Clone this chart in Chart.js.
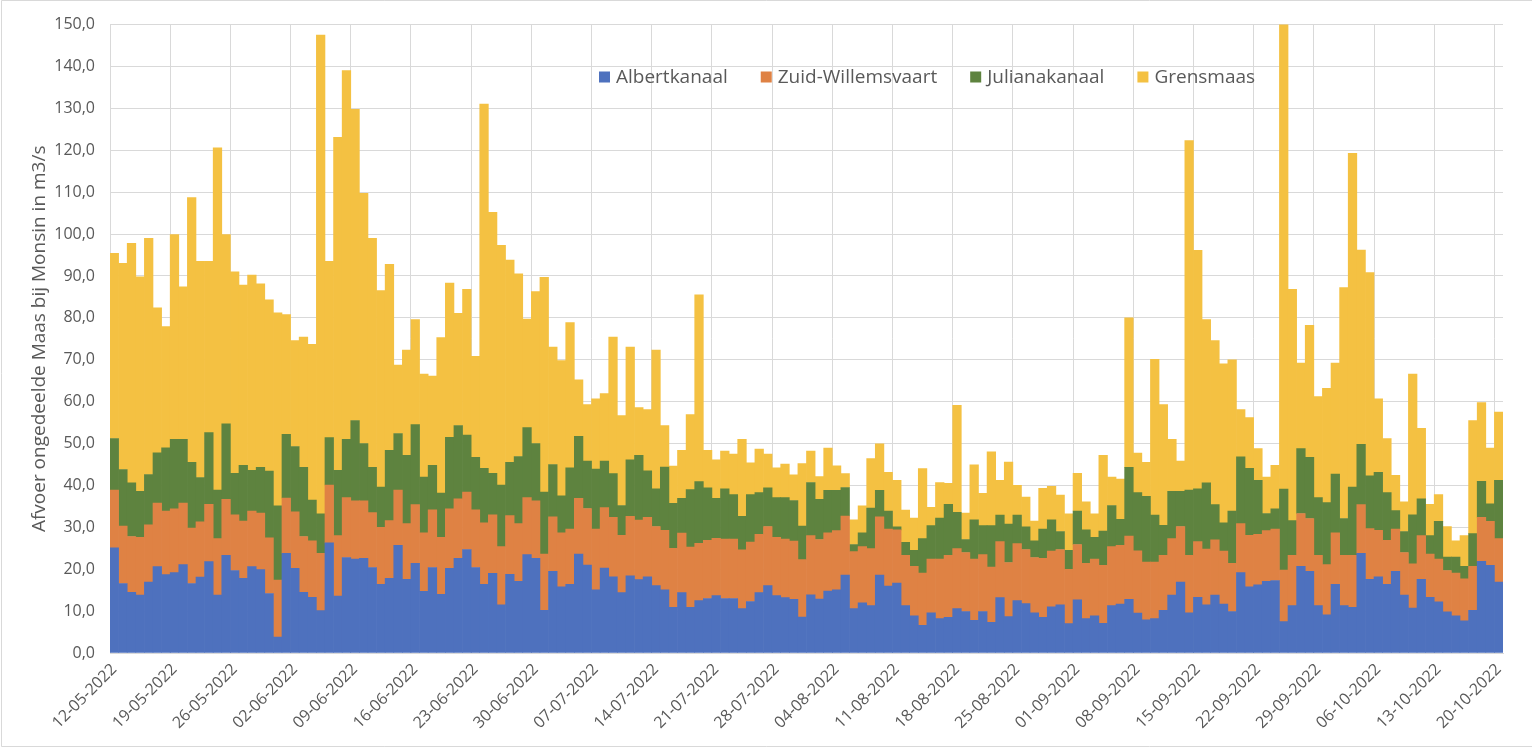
<!DOCTYPE html>
<html>
<head>
<meta charset="utf-8">
<script src="https://cdn.jsdelivr.net/npm/chart.js@4.4.1/dist/chart.umd.min.js"></script>
<style>
  html, body { margin: 0; padding: 0; background: #fff; }
  canvas { display: block; }
</style>
</head>
<body>
<canvas id="afvoerChart" width="1532" height="750"></canvas>
<script>
// dagelijkse afvoer per tak (m3/s), 12-05-2022 t/m 20-10-2022
const startDay = [2022, 4, 12];
const dayCount = 162;

const albertkanaal = [
  25.1, 16.6, 14.5, 13.8, 16.9, 20.6, 18.7, 19.2, 21.1, 16.6,
  18.1, 21.8, 13.8, 23.3, 19.7, 17.8, 20.6, 19.9, 14.2, 3.8,
  23.8, 20.2, 14.5, 13.3, 10.1, 26.3, 13.6, 22.8, 22.4, 22.6,
  20.4, 16.4, 17.8, 25.7, 17.6, 21.4, 14.7, 20.4, 14.0, 20.2,
  22.6, 24.7, 20.4, 16.4, 19.0, 11.5, 18.8, 17.1, 23.5, 22.6,
  10.2, 19.5, 15.8, 16.4, 23.6, 21.0, 15.1, 20.3, 18.2, 14.4,
  18.4, 17.5, 18.2, 16.1, 15.1, 10.9, 14.4, 10.9, 12.5, 13.0,
  13.7, 13.0, 13.0, 10.6, 12.3, 14.4, 16.1, 13.7, 13.2, 12.8,
  8.6, 13.9, 12.9, 14.8, 15.1, 18.6, 10.6, 12.0, 11.3, 18.6,
  16.0, 16.7, 11.3, 8.9, 6.6, 9.6, 8.2, 8.5, 10.6, 9.9,
  7.8, 9.9, 7.3, 13.2, 8.7, 12.5, 11.8, 9.6, 8.5, 11.0,
  11.5, 7.0, 12.7, 8.2, 8.9, 7.1, 11.3, 11.7, 12.8, 9.5,
  7.9, 8.2, 10.2, 13.8, 16.9, 9.6, 13.3, 11.5, 13.8, 11.7,
  9.9, 19.2, 15.8, 16.3, 17.1, 17.3, 7.5, 11.3, 20.7, 19.5,
  11.3, 9.1, 16.4, 11.3, 10.9, 23.8, 17.6, 18.2, 16.4, 19.5,
  13.8, 10.7, 17.6, 13.3, 12.2, 9.8, 8.9, 7.7, 10.2, 21.9,
  20.9, 16.9
];

const zuidWillemsvaart = [
  13.8, 13.7, 13.3, 13.8, 13.7, 15.2, 15.2, 15.2, 14.7, 13.2,
  13.2, 13.7, 13.5, 13.4, 13.3, 13.7, 13.3, 13.5, 13.3, 13.6,
  13.2, 13.5, 13.3, 13.5, 13.7, 13.8, 14.4, 14.3, 13.9, 13.7,
  13.1, 13.6, 13.8, 13.2, 13.3, 14.0, 14.0, 13.8, 13.6, 14.2,
  14.2, 13.7, 13.8, 14.7, 14.0, 13.9, 14.0, 13.8, 13.6, 13.7,
  13.4, 13.0, 12.9, 13.2, 13.3, 13.5, 14.5, 14.4, 14.2, 13.7,
  14.2, 14.2, 14.2, 14.1, 14.2, 14.1, 14.2, 14.4, 13.7, 13.9,
  13.7, 14.2, 14.2, 14.0, 14.2, 13.9, 14.1, 13.9, 14.0, 13.9,
  13.7, 14.1, 14.2, 13.9, 14.1, 14.1, 13.6, 13.4, 13.6, 13.9,
  13.6, 12.7, 12.0, 11.8, 12.5, 12.8, 14.2, 14.8, 14.3, 14.1,
  14.6, 13.6, 13.2, 13.4, 12.9, 13.6, 12.9, 13.2, 14.1, 13.3,
  13.2, 13.0, 13.2, 13.2, 13.5, 13.8, 14.1, 14.0, 15.1, 14.9,
  13.8, 13.5, 13.1, 13.5, 13.3, 13.7, 13.3, 13.3, 13.2, 12.6,
  11.5, 11.7, 12.3, 12.0, 12.1, 12.3, 12.3, 12.0, 12.6, 12.6,
  12.0, 12.0, 12.3, 12.0, 12.4, 11.6, 12.1, 11.1, 10.5, 10.1,
  10.2, 10.6, 10.4, 10.3, 10.2, 9.9, 10.2, 10.0, 10.5, 10.5,
  10.5, 10.4
];

const julianakanaal = [
  12.3, 13.5, 12.8, 11.0, 12.0, 12.0, 15.1, 16.6, 15.2, 15.7,
  10.6, 17.1, 11.6, 18.0, 9.9, 13.3, 9.7, 10.9, 15.9, 17.7,
  15.2, 15.6, 16.5, 9.7, 9.4, 11.3, 15.6, 13.9, 19.2, 13.7,
  10.8, 9.6, 16.8, 13.5, 16.3, 19.1, 13.3, 10.6, 10.6, 17.1,
  17.5, 13.6, 12.5, 13.0, 9.9, 14.7, 12.7, 16.0, 16.7, 13.7,
  14.8, 12.5, 8.8, 14.6, 14.8, 11.3, 14.3, 11.1, 10.4, 7.1,
  13.5, 15.5, 11.1, 9.0, 15.1, 10.7, 8.3, 13.7, 14.7, 12.5,
  9.5, 12.0, 10.6, 8.0, 11.3, 10.0, 9.2, 9.5, 9.9, 9.7,
  8.0, 12.7, 9.6, 10.1, 9.6, 6.8, 1.7, 3.3, 9.7, 6.3,
  4.3, 0.7, 3.1, 3.8, 8.2, 8.0, 9.8, 12.2, 8.7, 3.1,
  9.4, 6.9, 9.9, 6.3, 9.2, 6.8, 5.4, 4.0, 7.0, 7.5,
  4.3, 4.5, 8.0, 8.0, 5.2, 8.2, 9.8, 6.2, 16.4, 13.9,
  15.7, 11.2, 7.2, 11.3, 8.4, 15.6, 12.6, 15.8, 8.4, 6.8,
  12.5, 15.9, 16.0, 12.9, 4.1, 4.8, 19.3, 8.3, 15.5, 14.6,
  13.8, 14.8, 14.0, 8.8, 16.3, 14.4, 12.6, 13.8, 11.4, 4.4,
  5.0, 11.7, 8.8, 4.4, 9.0, 3.2, 3.8, 3.0, 7.8, 8.6,
  4.2, 13.9
];

const grensmaas = [
  44.2, 49.2, 57.2, 51.2, 56.4, 34.6, 28.9, 48.9, 36.4, 63.2,
  51.6, 40.9, 81.7, 45.2, 48.1, 43.0, 46.6, 43.8, 40.9, 46.1,
  28.6, 25.3, 31.1, 37.2, 114.3, 42.1, 79.5, 88.0, 74.3, 59.7,
  54.7, 46.9, 44.4, 16.3, 25.1, 25.1, 24.6, 21.3, 37.1, 36.8,
  26.8, 34.8, 24.1, 86.9, 62.3, 57.2, 48.3, 43.6, 25.9, 36.3,
  51.3, 28.0, 32.3, 34.7, 13.5, 13.5, 16.8, 16.1, 32.6, 21.5,
  26.9, 11.4, 14.6, 33.1, 9.9, 8.9, 11.5, 17.9, 44.6, 9.0,
  9.2, 9.0, 9.7, 18.4, 7.6, 10.4, 8.1, 7.1, 8.0, 6.1,
  14.9, 7.5, 5.4, 10.1, 5.9, 3.3, 5.9, 6.4, 11.8, 11.1,
  9.2, 11.1, 7.7, 7.7, 16.7, 4.4, 8.5, 5.0, 25.5, 6.3,
  13.1, 7.7, 17.6, 8.3, 14.8, 7.1, 7.1, 4.7, 9.7, 8.0,
  8.7, 8.7, 9.0, 6.7, 5.6, 18.1, 6.8, 9.6, 35.7, 9.4,
  8.1, 37.2, 28.8, 12.4, 7.2, 83.4, 56.9, 39.0, 39.2, 37.9,
  36.1, 11.3, 12.1, 7.6, 8.7, 10.4, 112.9, 55.2, 20.4, 31.5,
  24.1, 27.3, 26.5, 55.1, 79.7, 46.4, 48.5, 17.6, 12.9, 8.4,
  7.1, 33.6, 16.8, 7.5, 6.4, 7.3, 3.9, 7.3, 27.0, 18.8,
  13.3, 16.3
];

const seriesNames = ['Albertkanaal', 'Zuid-Willemsvaart', 'Julianakanaal', 'Grensmaas'];
const seriesColors = ['#4e71be', '#df8244', '#5e833f', '#f4c142'];

const yTicks = { min: 0, max: 150, step: 10 };
const yTitle = 'Afvoer ongedeelde Maas bij Monsin in m3/s';
const labelEvery = 7;

function pad2(n) { return n < 10 ? '0' + n : '' + n; }

const days = [];
for (let i = 0; i < dayCount; i++) {
    const d = new Date(startDay[0], startDay[1], startDay[2] + i);
    days.push(pad2(d.getDate()) + '-' + pad2(d.getMonth() + 1) + '-' + d.getFullYear());
}

const gridColor = '#d9d9d9';
const textColor = '#595959';
const fontFamily = "'Open Sans', 'DejaVu Sans', sans-serif";

// witte achtergrond + lichte rand zoals in Excel
const background = {
    id: 'background',
    beforeDraw(chart) {
        const ctx = chart.ctx;
        ctx.save();
        ctx.fillStyle = '#fff';
        ctx.fillRect(0, 0, chart.width, chart.height);
        ctx.strokeStyle = gridColor;
        ctx.lineWidth = 1;
        ctx.beginPath();
        ctx.moveTo(1.5, 746.5);
        ctx.lineTo(1.5, 0.5);
        ctx.lineTo(chart.width, 0.5);
        ctx.moveTo(1.5, 746.5);
        ctx.lineTo(chart.width, 746.5);
        ctx.stroke();
        ctx.restore();
    }
};

// legenda binnen het plotvlak, bovenaan
const innerLegend = {
    id: 'innerLegend',
    afterDatasetsDraw(chart) {
        const ctx = chart.ctx;
        const box = 11;
        let x = 599;
        const y = 77;
        ctx.save();
        ctx.font = '19px ' + fontFamily;
        ctx.textBaseline = 'middle';
        ctx.textAlign = 'left';
        chart.data.datasets.forEach(ds => {
            ctx.fillStyle = ds.backgroundColor;
            ctx.fillRect(x, y - box / 2, box, box);
            ctx.fillStyle = textColor;
            ctx.fillText(ds.label, x + box + 6, y + 1);
            x += box + 6 + ctx.measureText(ds.label).width + 33;
        });
        ctx.restore();
    }
};

const series = [albertkanaal, zuidWillemsvaart, julianakanaal, grensmaas];

const ctx = document.getElementById('afvoerChart').getContext('2d');
const myChart = new Chart(ctx, {
    type: 'bar',
    data: {
        labels: days,
        datasets: series.map((values, k) => ({
            label: seriesNames[k],
            data: values,
            backgroundColor: seriesColors[k],
            borderWidth: 0,
            barPercentage: 1,
            categoryPercentage: 1
        }))
    },
    options: {
        responsive: false,
        animation: false,
        devicePixelRatio: 1,
        layout: { padding: { top: 18, right: 29, bottom: 0, left: 0 } },
        plugins: {
            legend: { display: false },
            tooltip: { enabled: false }
        },
        scales: {
            x: {
                stacked: true,
                grid: {
                    offset: true,
                    drawTicks: false,
                    color: c => (c.index % labelEvery === 0 ? gridColor : 'rgba(0,0,0,0)')
                },
                border: { color: gridColor },
                ticks: {
                    autoSkip: false,
                    maxRotation: 45,
                    minRotation: 45,
                    padding: 7,
                    color: textColor,
                    font: { family: fontFamily, size: 16 },
                    callback: (v, i) => (i % labelEvery === 0 ? days[i] : '')
                },
                afterFit: s => { s.height = 97; }
            },
            y: {
                stacked: true,
                min: yTicks.min,
                max: yTicks.max,
                grid: { color: gridColor, drawTicks: false },
                border: { color: gridColor },
                ticks: {
                    stepSize: yTicks.step,
                    padding: 15,
                    color: textColor,
                    font: { family: fontFamily, size: 16 },
                    callback: v => v.toFixed(1).replace('.', ',')
                },
                title: {
                    display: true,
                    text: yTitle,
                    color: textColor,
                    font: { family: fontFamily, size: 19 },
                    padding: { top: 28, bottom: 0 }
                },
                afterFit: s => { s.width = 110; }
            }
        }
    },
    plugins: [background, innerLegend]
});
</script>
</body>
</html>
